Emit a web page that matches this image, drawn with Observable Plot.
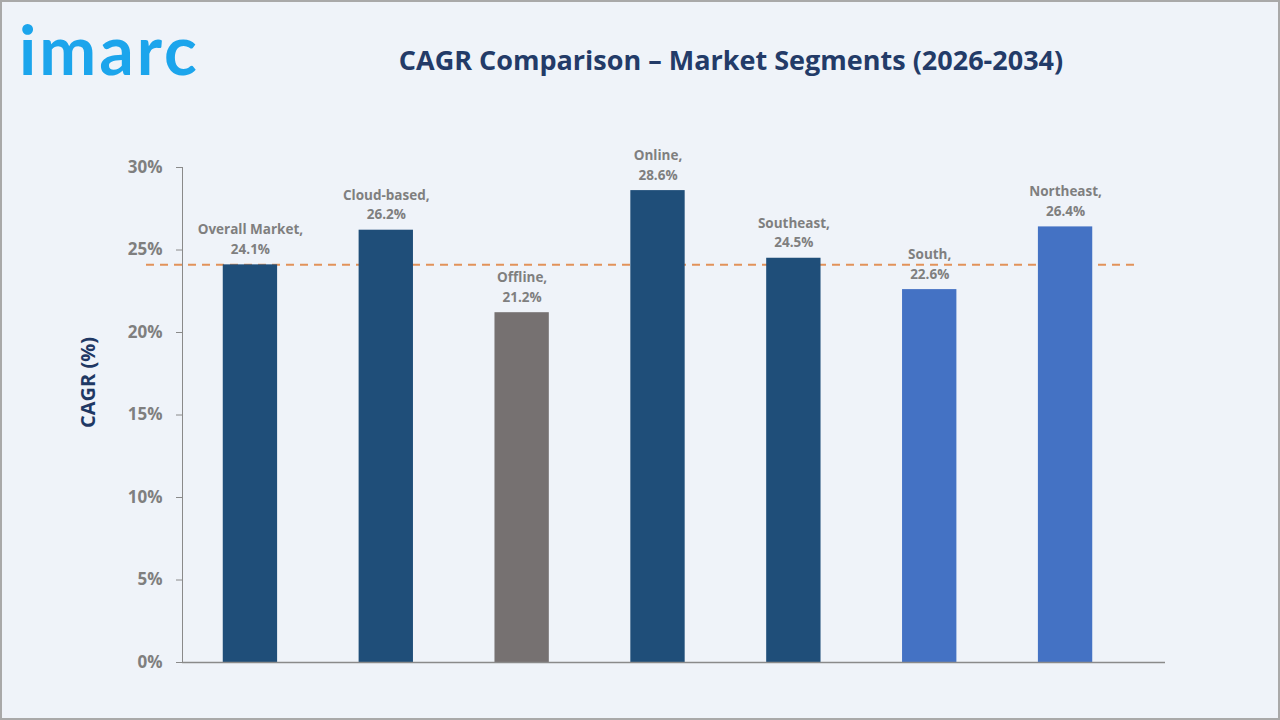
<!DOCTYPE html>
<html>
<head>
<meta charset="utf-8">
<script src="https://cdn.jsdelivr.net/npm/d3@7"></script>
<script src="https://cdn.jsdelivr.net/npm/@observablehq/plot@0.6"></script>
<style>
  html, body { margin: 0; padding: 0; background: #eff3f9; }
  #wrap { position: relative; width: 1280px; height: 720px; box-sizing: border-box; border: 2px solid #a9a9a9; background: #eff3f9; overflow: hidden; font-family: "Open Sans", "Noto Sans", sans-serif; }
  #header { position: relative; height: 108px; }
  #logo { position: absolute; left: 17px; top: 6px; line-height: 1.2; font-family: "Lato", "Open Sans", sans-serif; font-weight: 700; font-size: 68px; color: #1ca5ec; letter-spacing: 3px; }
  #title { position: absolute; left: 0; width: 1458px; top: 39px; text-align: center; font-family: "Open Sans", sans-serif; font-weight: 700; font-size: 27px; color: #233b68; }
  #chart svg { display: block; }
</style>
</head>
<body>
<div id="wrap">
  <div id="header">
    <div id="logo">imarc</div>
    <div id="title">CAGR Comparison – Market Segments (2026-2034)</div>
  </div>
  <div id="chart"></div>
</div>
<script>
const categories = ["Overall Market", "Cloud-based", "Offline", "Online", "Southeast", "South", "Northeast"];
const values = [24.1, 26.2, 21.2, 28.6, 24.5, 22.6, 26.4];
const groups = ["main", "main", "offline", "main", "main", "region", "region"];
const overallCAGR = 24.1;
const yTicks = [0, 5, 10, 15, 20, 25, 30];

const data = categories.map((c, i) => ({category: c, value: values[i], group: groups[i]}));

const W = 1276, H = 608;
const mLeft = 180, mRight = W - 1163, mTop = 57, mBottom = H - 552;

const chart = Plot.plot({
  width: W,
  height: H,
  marginLeft: mLeft,
  marginRight: mRight,
  marginTop: mTop,
  marginBottom: mBottom,
  style: {background: "transparent", fontFamily: "'Open Sans', sans-serif"},
  x: {domain: categories, range: [mLeft, 1131], paddingInner: 0.6, paddingOuter: 0.3, round: false, axis: null},
  y: {domain: [0, 30]},
  color: {domain: ["main", "offline", "region"], range: ["#1f4e79", "#767171", "#4472c4"]},
  marks: [
    Plot.ruleY([overallCAGR], {stroke: "#e2925a", strokeWidth: 2, strokeDasharray: "8,6", insetLeft: -36, insetRight: 30}),
    Plot.barY(data, {x: "category", y: "value", fill: "group"}),
    Plot.text(data, {x: "category", y: "value", text: d => `${d.category},\n${d.value.toFixed(1)}%`, lineAnchor: "bottom", lineHeight: 1.45, dy: -11, fill: "#7f7f7f", fontWeight: 700, fontSize: 13.5}),
    Plot.frame({anchor: "left", stroke: "#8a8a8a"}),
    Plot.ruleY([0], {stroke: "#8a8a8a", strokeWidth: 1.5}),
    Plot.axisY({ticks: yTicks, tickFormat: d => d + "%", tickSize: 6, tickPadding: 14, stroke: "#8a8a8a", fill: "#7f7f7f", fontSize: 17, fontWeight: 700, label: null}),
    Plot.text(["CAGR (%)"], {frameAnchor: "left", dx: -94, dy: 13, rotate: -90, fill: "#1f3864", fontSize: 20, fontWeight: 700})
  ]
});
document.getElementById("chart").appendChild(chart);
</script>
</body>
</html>
